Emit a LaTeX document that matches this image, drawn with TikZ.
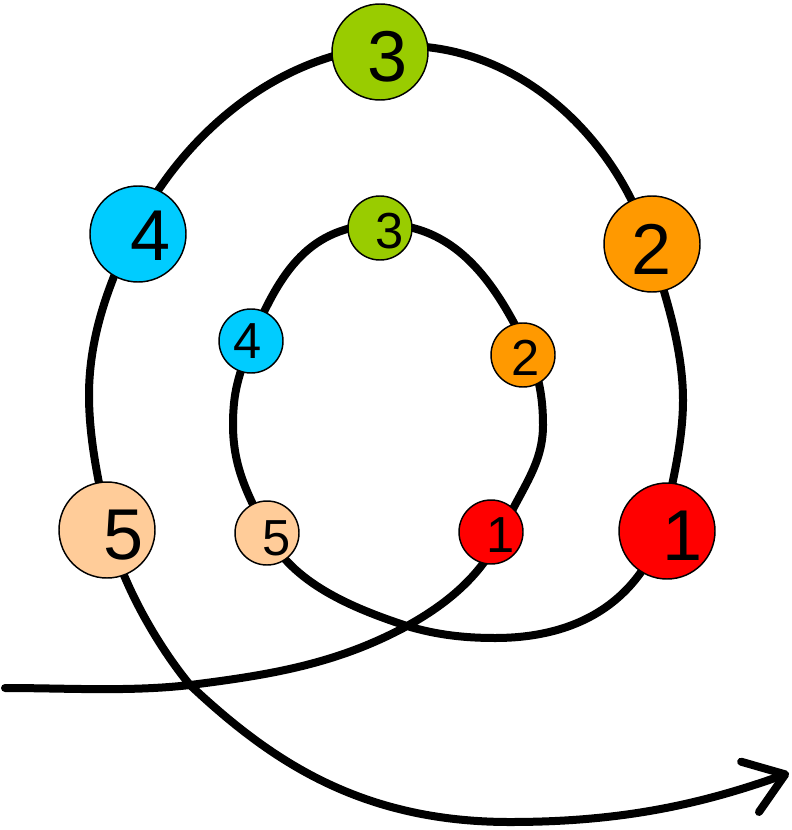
\documentclass[tikz,border=0pt]{standalone}
\usepackage{fontspec}
\setmainfont{Liberation Sans}
\usetikzlibrary{arrows.meta}
\definecolor{cred}{HTML}{FF0000}
\definecolor{corange}{HTML}{FF9900}
\definecolor{cgreen}{HTML}{99CC00}
\definecolor{ccyan}{HTML}{00CCFF}
\definecolor{cpeach}{HTML}{FFCC99}
\begin{document}
\begin{tikzpicture}[x=0.75pt,y=-0.75pt,
 bigdot/.style={circle,draw=black,line width=1.1pt,minimum size=72pt,inner sep=0pt},
 smalldot/.style={circle,draw=black,line width=1.1pt,minimum size=48pt,inner sep=0pt},
 bignum/.style={font=\fontsize{54}{54}\selectfont,inner sep=0pt},
 smallnum/.style={font=\fontsize{38}{38}\selectfont,inner sep=0pt},
 spiral/.style={line width=6pt,line cap=round,line join=round}]
\useasboundingbox (0,0) rectangle (791,830);
% key points of the spiral
\coordinate (k0) at (5,688);
\coordinate (k1) at (190,685);
\coordinate (k2) at (407,626);
\coordinate (k3) at (500,535);
\coordinate (k4) at (543,425);
\coordinate (k5) at (530,355);
\coordinate (k6) at (380,224);
\coordinate (k7) at (251,341);
\coordinate (k8) at (233,425);
\coordinate (k9) at (267,533);
\coordinate (k11) at (495,638);
\coordinate (k12) at (662,532);
\coordinate (k13) at (683,400);
\coordinate (k14) at (649,243);
\coordinate (k15) at (380,47);
\coordinate (k16) at (135,230);
\coordinate (k17) at (89,395);
\coordinate (k18) at (109,530);
\coordinate (k20) at (510,822);
\coordinate (tip) at (789,773);
\draw[spiral,-{Straight Barb[round,length=28pt,width=40pt]}]
 (k0) .. controls +(60,0) and +(-60,7) .. (k1)
      .. controls +(80,-10) and +(-70,38) .. (k2)
      .. controls +(40,-22) and +(-18,40) .. (k3)
      .. controls +(22,-48) and +(0,40) .. (k4)
      .. controls +(0,-30) and +(8,20) .. (k5)
      .. controls +(-35,-75) and +(75,0) .. (k6)
      .. controls +(-70,3) and +(30,-72) .. (k7)
      .. controls +(-12,35) and +(0,-35) .. (k8)
      .. controls +(0,45) and +(-17,-35) .. (k9)
      .. controls +(25,50) and +(-55,-18) .. (k2)
      .. controls +(30,9) and +(-30,0) .. (k11)
      .. controls +(70,0) and +(-30,80) .. (k12)
      .. controls +(8,-40) and +(0,45) .. (k13)
      .. controls +(0,-55) and +(14,45) .. (k14)
      .. controls +(-35,-110) and +(130,-13) .. (k15)
      .. controls +(-110,11) and +(45,-90) .. (k16)
      .. controls +(-25,50) and +(0,-60) .. (k17)
      .. controls +(0,45) and +(-10,-45) .. (k18)
      .. controls +(12,52) and +(-33,-40) .. (k1)
      .. controls +(80,75) and +(-150,0) .. (k20)
      .. controls +(110,0) and +(-90,32) .. (tip);
% outer dots
\node[bigdot,fill=cred] (B1) at (667,531) {};
\node[bigdot,fill=corange] (B2) at (652,244) {};
\node[bigdot,fill=cgreen] (B3) at (380,52) {};
\node[bigdot,fill=ccyan] (B4) at (138,234) {};
\node[bigdot,fill=cpeach] (B5) at (107,530) {};
\node[bignum] (B1t) at ([shift={(16,5)}]B1.center) {1};
\node[bignum] (B2t) at ([shift={(0,5)}]B2.center) {2};
\node[bignum] (B3t) at ([shift={(8,5)}]B3.center) {3};
\node[bignum] (B4t) at ([shift={(13,2)}]B4.center) {4};
\node[bignum] (B5t) at ([shift={(17,5)}]B5.center) {5};
% inner dots
\node[smalldot,fill=cred] (S1) at (491,532) {};
\node[smalldot,fill=corange] (S2) at (523,355) {};
\node[smalldot,fill=cgreen] (S3) at (380,228) {};
\node[smalldot,fill=ccyan] (S4) at (251,341) {};
\node[smalldot,fill=cpeach] (S5) at (267,533) {};
\node[smallnum] (S1t) at ([shift={(10,3)}]S1.center) {1};
\node[smallnum] (S2t) at ([shift={(3,3)}]S2.center) {2};
\node[smallnum] (S3t) at ([shift={(10,3)}]S3.center) {3};
\node[smallnum] (S4t) at ([shift={(-3,0)}]S4.center) {4};
\node[smallnum] (S5t) at ([shift={(10,5)}]S5.center) {5};
\end{tikzpicture}
\end{document}
